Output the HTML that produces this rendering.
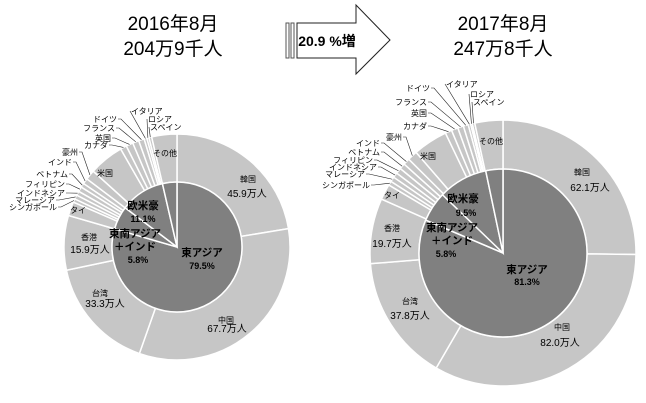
<!DOCTYPE html>
<html><head><meta charset="utf-8"><style>
body{margin:0;background:#fff;width:646px;height:403px;overflow:hidden}
svg{display:block;font-family:"Liberation Sans","Noto Sans CJK JP",sans-serif}
.s{font-size:8px;fill:#000}
.m{font-size:10px;fill:#000}
.b{font-size:10.5px;font-weight:bold;fill:#000}
.t{font-size:19px;fill:#000}
</style></head><body>
<svg id="g" width="646" height="403" viewBox="0 0 646 403">
<text class="t" x="173" y="30" text-anchor="middle">2016年8月</text>
<text class="t" x="173" y="55" text-anchor="middle">204万9千人</text>
<text class="t" x="503" y="30" text-anchor="middle">2017年8月</text>
<text class="t" x="503" y="55" text-anchor="middle">247万8千人</text>
<rect x="286" y="23" width="3" height="35" fill="#fff" stroke="#555" stroke-width="1"/>
<rect x="291" y="23" width="3" height="35" fill="#fff" stroke="#555" stroke-width="1"/>
<path d="M297,23 L356,23 L356,5 L390,40 L356,74 L356,58 L297,58 Z" fill="#fff" stroke="#222" stroke-width="1"/>
<text x="327" y="46" text-anchor="middle" style="font-size:14px;font-weight:bold">20.9 %増</text>
<g id="c1"></g><g id="c2"></g>
<g id="lab">
<text class="s" x="248" y="182" text-anchor="middle">韓国</text><text class="m" x="247" y="197" text-anchor="middle">45.9万人</text>
<text class="s" x="226" y="323" text-anchor="middle">中国</text><text class="m" x="227" y="332" text-anchor="middle">67.7万人</text>
<text class="s" x="100" y="196" text-anchor="middle" transform="translate(0,100)">台湾</text><text class="m" x="105" y="307" text-anchor="middle">33.3万人</text>
<text class="s" x="89" y="240" text-anchor="middle">香港</text><text class="m" x="90" y="253" text-anchor="middle">15.9万人</text>
<text class="s" x="78" y="213" text-anchor="middle">タイ</text>
<text class="s" x="105" y="176" text-anchor="middle">米国</text>
<text class="s" x="165" y="156" text-anchor="middle">その他</text>
<text class="b" x="143" y="209" text-anchor="middle">欧米豪</text><text class="b" x="143" y="222" text-anchor="middle" style="font-size:9px">11.1%</text>
<text class="b" x="135" y="237" text-anchor="middle">東南アジア</text><text class="b" x="135" y="250" text-anchor="middle">＋インド</text><text class="b" x="138" y="263" text-anchor="middle" style="font-size:9px">5.8%</text>
<text class="b" x="202" y="256" text-anchor="middle">東アジア</text><text class="b" x="202" y="269" text-anchor="middle" style="font-size:9px">79.5%</text>

<text class="s" x="582" y="175" text-anchor="middle">韓国</text><text class="m" x="590" y="191" text-anchor="middle">62.1万人</text>
<text class="s" x="562" y="330" text-anchor="middle">中国</text><text class="m" x="560" y="346" text-anchor="middle">82.0万人</text>
<text class="s" x="410" y="304" text-anchor="middle">台湾</text><text class="m" x="410" y="319" text-anchor="middle">37.8万人</text>
<text class="s" x="392" y="231" text-anchor="middle">香港</text><text class="m" x="392" y="247" text-anchor="middle">19.7万人</text>
<text class="s" x="392" y="198" text-anchor="middle">タイ</text>
<text class="s" x="428" y="159" text-anchor="middle">米国</text>
<text class="s" x="491" y="144" text-anchor="middle">その他</text>
<text class="b" x="463" y="202" text-anchor="middle">欧米豪</text><text class="b" x="466" y="216" text-anchor="middle" style="font-size:9px">9.5%</text>
<text class="b" x="452" y="231" text-anchor="middle">東南アジア</text><text class="b" x="452" y="244" text-anchor="middle">＋インド</text><text class="b" x="446" y="257" text-anchor="middle" style="font-size:9px">5.8%</text>
<text class="b" x="527" y="273" text-anchor="middle">東アジア</text><text class="b" x="527" y="285" text-anchor="middle" style="font-size:9px">81.3%</text>
</g>
</svg>
<script>
var NS="http://www.w3.org/2000/svg",svg=document.getElementById("g");
function el(t,a,p){var e=document.createElementNS(NS,t);for(var k in a)e.setAttribute(k,a[k]);(p||svg).appendChild(e);return e;}
function pt(cx,cy,r,f){var a=f*2*Math.PI;return[cx+r*Math.sin(a),cy-r*Math.cos(a)];}
function chart(gid,cx,cy,R,r,ring,inner,leaders){
 var g=document.getElementById(gid),tot=ring.reduce(function(s,v){return s+v},0),c=0,mids=[];
 ring.forEach(function(v){var a=c/tot,b=(c+v)/tot;c+=v;
  var p1=pt(cx,cy,R,a),p2=pt(cx,cy,R,b),p3=pt(cx,cy,r,b),p4=pt(cx,cy,r,a),L=(b-a)>0.5?1:0;
  el("path",{d:"M"+p1+"A"+R+","+R+" 0 "+L+" 1 "+p2+"L"+p3+"A"+r+","+r+" 0 "+L+" 0 "+p4+"Z",fill:"#c6c6c6",stroke:"#fff","stroke-width":"1.5"},g);
  mids.push((a+b)/2);});
 c=0;var it=inner.reduce(function(s,v){return s+v},0);
 inner.forEach(function(v){var a=c/it,b=(c+v)/it;c+=v;var p1=pt(cx,cy,r,a),p2=pt(cx,cy,r,b),L=(b-a)>0.5?1:0;
  el("path",{d:"M"+cx+","+cy+"L"+p1+"A"+r+","+r+" 0 "+L+" 1 "+p2+"Z",fill:"#808080",stroke:"#fff","stroke-width":"1.5"},g);});
 leaders.forEach(function(l){var t=el("text",{x:l[1],y:l[2]+3,"class":"s","text-anchor":l[3]||"end"},g);t.textContent=l[0];
  var m=pt(cx,cy,R,mids[l[4]]);var sx=l[3]=="start"?l[1]-1:l[1]+1;
  el("polyline",{points:sx+","+l[2]+" "+(sx+(l[3]=="start"?0:3))+","+l[2]+" "+m,fill:"none",stroke:"#222","stroke-width":"0.6"},g);});
}
chart("c1",177,247,113,65,
 [22.4,33.0,16.3,7.8,2.0,0.5,0.6,0.6,0.7,0.6,0.8,1.4,5.0,0.9,1.0,0.9,0.8,0.4,0.3,0.4,3.6],
 [79.5,5.8,11.1,3.6],
 [["ドイツ",117,119,"end",16],["フランス",115,128,"end",15],["英国",111,138,"end",14],["カナダ",108,145,"end",13],
  ["豪州",78,152,"end",11],["インド",72,162,"end",10],["ベトナム",68,174,"end",9],["フィリピン",65,184,"end",8],
  ["インドネシア",65,193,"end",7],["マレーシア",55,200,"end",6],["シンガポール",57,207,"end",5],
  ["イタリア",131,111,"start",17],["ロシア",148,119,"start",18],["スペイン",150,127,"start",19]]);
chart("c2",503,253,133,84,
 [25.1,33.1,15.3,7.9,1.9,0.5,0.6,0.6,0.7,0.7,0.8,1.2,4.2,0.8,0.8,0.7,0.6,0.3,0.2,0.3,3.4],
 [81.4,5.8,9.5,3.3],
 [["ドイツ",430,88,"end",16],["フランス",427,102,"end",15],["英国",427,113,"end",14],["カナダ",427,126,"end",13],
  ["豪州",402,137,"end",11],["インド",380,143,"end",10],["ベトナム",380,152,"end",9],["フィリピン",373,160,"end",8],
  ["インドネシア",377,167,"end",7],["マレーシア",365,174,"end",6],["シンガポール",370,185,"end",5],
  ["イタリア",446,84,"start",17],["ロシア",470,94,"start",18],["スペイン",473,102,"start",19]]);
var lab=document.getElementById("lab");svg.appendChild(lab);
</script>
</body></html>
